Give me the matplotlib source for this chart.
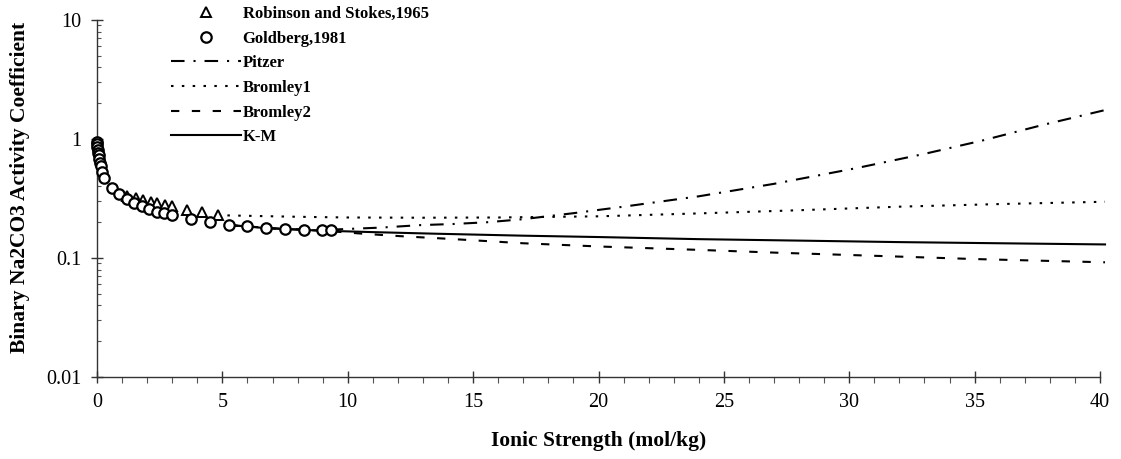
import numpy as np
import matplotlib
matplotlib.use("Agg")
import matplotlib.pyplot as plt
from matplotlib.ticker import FixedLocator, FuncFormatter, LogLocator, MultipleLocator

plt.rcParams["font.family"] = ["Liberation Serif", "DejaVu Serif"]

# Robinson and Stokes, 1965 (triangles)
rs_I = [1.2, 1.56, 1.85, 2.14, 2.41, 2.71, 3.0, 3.6, 4.2, 4.84]
rs_g = [0.33, 0.317, 0.307, 0.297, 0.288, 0.279, 0.275, 0.253, 0.242, 0.230]

# Goldberg, 1981 (circles)
gold_I = [0.003, 0.006, 0.015, 0.03, 0.045, 0.06, 0.09, 0.12, 0.15, 0.21, 0.29, 0.61,
          0.88, 1.18, 1.49, 1.78, 2.09, 2.38, 2.68, 3.0, 3.74, 4.51, 5.27, 6.0, 6.74,
          7.5, 8.27, 8.96, 9.32]
gold_g = [0.95, 0.91, 0.86, 0.81, 0.77, 0.73, 0.68, 0.63, 0.59, 0.53, 0.467, 0.385,
          0.343, 0.313, 0.291, 0.273, 0.256, 0.245, 0.240, 0.230, 0.212, 0.202, 0.189,
          0.184, 0.178, 0.174, 0.172, 0.172, 0.172]

# model curves
pitzer_I = [5.27, 7, 9, 11.3, 12.9, 14.2, 15.6, 17, 19, 21, 24, 27, 30.3, 33, 35.3, 37.7, 40.2]
pitzer_g = [0.189, 0.177, 0.172, 0.180, 0.189, 0.193, 0.200, 0.212, 0.238, 0.27, 0.33,
            0.42, 0.57, 0.75, 0.97, 1.31, 1.75]

brom1_I = [5.2, 8, 10, 13, 16, 20, 24, 28, 32, 36, 40.2]
brom1_g = [0.228, 0.222, 0.219, 0.218, 0.219, 0.224, 0.237, 0.252, 0.270, 0.284, 0.297]

brom2_I = [5.27, 7, 9.3, 10.6, 12, 14, 17, 20, 24, 27, 30, 35, 40.2]
brom2_g = [0.189, 0.178, 0.168, 0.160, 0.153, 0.145, 0.133, 0.125, 0.117, 0.111, 0.106,
           0.098, 0.092]

km_I = [5.27, 6.0, 6.74, 7.5, 8.27, 9.3, 11, 13.5, 17, 20, 24, 28, 32, 36, 40.2]
km_g = [0.189, 0.184, 0.178, 0.175, 0.172, 0.169, 0.165, 0.160, 0.154, 0.150, 0.144,
        0.140, 0.136, 0.133, 0.130]

fig = plt.figure(figsize=(11.21, 4.59), dpi=100)
ax = fig.add_axes([97 / 1121, 82 / 459, 1003 / 1121, 357 / 459])

lw = 1.5
ax.plot(pitzer_I, pitzer_g, color="black", lw=lw, ls=(0, (6.5, 4.3, 1, 4.3)),
        label="Pitzer", clip_on=False, zorder=2)
ax.plot(brom1_I, brom1_g, color="black", lw=lw, ls=(0, (1.2, 4)),
        label="Bromley1", clip_on=False, zorder=2)
ax.plot(brom2_I, brom2_g, color="black", lw=lw, ls=(0, (4, 6)),
        label="Bromley2", clip_on=False, zorder=2)
ax.plot(km_I, km_g, color="black", lw=lw, ls="-", label="K-M", clip_on=False, zorder=2)

ax.plot(rs_I, rs_g, ls="none", marker="^", ms=7, mfc="white", mec="black", mew=1.4,
        label="Robinson and Stokes,1965", zorder=4, clip_on=False)
ax.plot(gold_I, gold_g, ls="none", marker="o", ms=7.5, mfc="white", mec="black", mew=1.6,
        label="Goldberg,1981", zorder=5, clip_on=False)

ax.set_yscale("log")
ax.set_xlim(0, 40)
ax.set_ylim(0.01, 10)

for s in ["top", "right"]:
    ax.spines[s].set_visible(False)
for s in ["left", "bottom"]:
    ax.spines[s].set_linewidth(1.0)
    ax.spines[s].set_color("#333333")

ax.xaxis.set_major_locator(MultipleLocator(5))
ax.xaxis.set_minor_locator(MultipleLocator(1))
ax.yaxis.set_major_locator(FixedLocator([0.01, 0.1, 1, 10]))
ax.yaxis.set_minor_locator(LogLocator(base=10, subs=np.arange(2, 10)))
ax.yaxis.set_major_formatter(FuncFormatter(lambda v, p: "%g" % v))
ax.yaxis.set_minor_formatter(FuncFormatter(lambda v, p: ""))

ax.tick_params(axis="x", which="major", direction="inout", length=9, width=1,
               labelsize=14.5, pad=7, color="#333333")
ax.tick_params(axis="x", which="minor", direction="out", length=4, width=0.8, color="#555555")
ax.tick_params(axis="y", which="major", direction="inout", length=8, width=1,
               labelsize=14.5, pad=7, color="#333333")
ax.tick_params(axis="y", which="minor", direction="in", length=3, width=0.8, color="#555555")

ax.set_xlabel("Ionic Strength (mol/kg)", fontsize=15.5, fontweight="bold", labelpad=14)
ax.set_ylabel("Binary Na2CO3 Activity Coefficient", fontsize=15.5, fontweight="bold",
              labelpad=12)
ax.yaxis.label.set_y(0.53)

h, l = ax.get_legend_handles_labels()
order = [4, 5, 0, 1, 2, 3]
ax.legend([h[i] for i in order], [l[i] for i in order], frameon=False,
          loc="upper left", bbox_to_anchor=(171 / 1121, 1 - 6 / 459),
          bbox_transform=fig.transFigure, borderpad=0, borderaxespad=0,
          handlelength=4.2, handletextpad=0.1, labelspacing=0.52,
          prop={"weight": "bold", "size": 12})

fig.savefig("out.png", dpi=100)
